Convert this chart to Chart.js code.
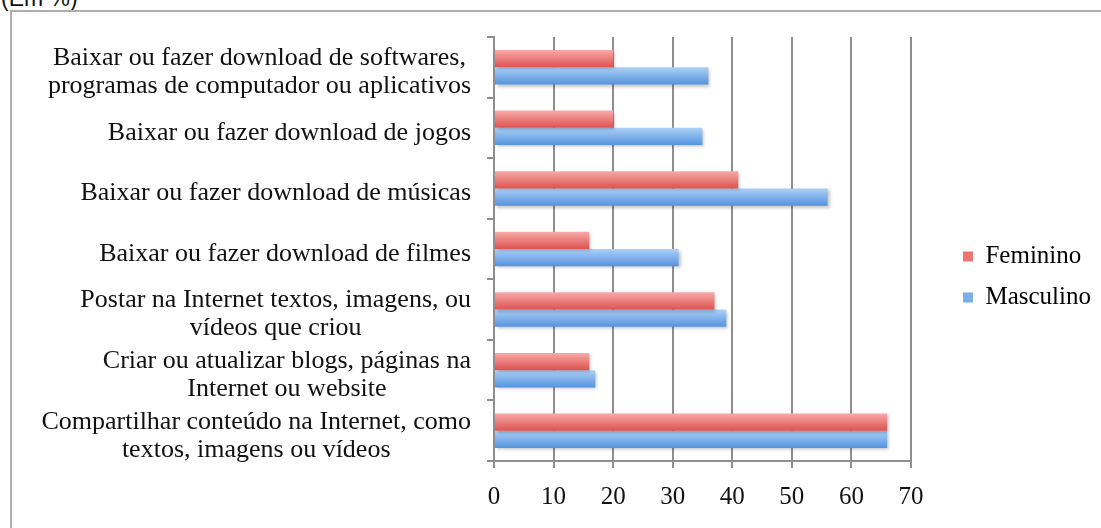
<!DOCTYPE html>
<html lang="pt">
<head>
<meta charset="utf-8">
<script src="https://cdn.jsdelivr.net/npm/chart.js@4/dist/chart.umd.min.js"></script>
<style>
  html, body { margin: 0; padding: 0; background: #fff; overflow: hidden; }
  body { width: 1101px; height: 528px; position: relative; }
  #unidade { position: absolute; left: 1px; top: -15px; font: 23px "Liberation Sans", sans-serif; color: #111; }
  #moldura { position: absolute; left: 10px; top: 10px; width: 1200px; height: 700px; border: 2px solid #adadad; }
  #grafico { position: absolute; left: 0; top: 0; }
</style>
</head>
<body>
<div id="unidade">(Em %)</div>
<div id="moldura"></div>
<canvas id="grafico" width="1101" height="528"></canvas>
<script>
// Categorias (de cima para baixo)
const categorias = [
    ['Baixar ou fazer download de softwares,', 'programas de computador ou aplicativos'],
    ['Baixar ou fazer download de jogos'],
    ['Baixar ou fazer download de músicas'],
    ['Baixar ou fazer download de filmes'],
    ['Postar na Internet textos, imagens, ou', 'vídeos que criou'],
    ['Criar ou atualizar blogs, páginas na', 'Internet ou website'],
    ['Compartilhar conteúdo na Internet, como', 'textos, imagens ou vídeos']
];

// Valores em %
const feminino  = [20, 20, 41, 16, 37, 16, 66];
const masculino = [36, 35, 56, 31, 39, 17, 66];

// Eixo X
const xMin = 0;
const xMax = 70;
const xPasso = 10;

const FONTE = '"Liberation Serif", "DejaVu Serif", serif';
const CAT_PCT = 0.57;

// Degradê vertical em cada barra
function degrade(claro, escuro) {
    return function (ctx) {
        const chart = ctx.chart;
        const y = chart.scales && chart.scales.y;
        if (ctx.type !== 'data' || !y || !chart.chartArea) return escuro;
        const centro = y.getPixelForValue(ctx.dataIndex);
        const passo = Math.abs(y.getPixelForValue(1) - y.getPixelForValue(0));
        const barra = passo * CAT_PCT / 2;
        const topo = ctx.datasetIndex === 0 ? centro - barra : centro;
        const g = chart.ctx.createLinearGradient(0, topo, 0, topo + barra);
        g.addColorStop(0, claro);
        g.addColorStop(1, escuro);
        return g;
    };
}

// Rótulos do eixo Y centralizados linha a linha
const rotulosY = {
    id: 'rotulosY',
    afterDraw(chart) {
        const { ctx, chartArea, scales: { y } } = chart;
        ctx.save();
        ctx.font = '26px ' + FONTE;
        ctx.fillStyle = '#111';
        ctx.textAlign = 'center';
        ctx.textBaseline = 'middle';
        categorias.forEach((linhas, i) => {
            const largura = Math.max(...linhas.map(l => ctx.measureText(l).width));
            const cx = chartArea.left - 23 - largura / 2;
            const cy = y.getPixelForValue(i) + 5;
            linhas.forEach((linha, j) => {
                ctx.fillText(linha, cx, cy + (j - (linhas.length - 1) / 2) * 28);
            });
        });
        ctx.restore();
    }
};

// Sombra leve nas barras
const sombra = {
    id: 'sombra',
    beforeDatasetsDraw(chart) {
        const c = chart.ctx;
        c.save();
        c.shadowColor = 'rgba(0,0,0,0.22)';
        c.shadowBlur = 3;
        c.shadowOffsetX = 2;
        c.shadowOffsetY = 2;
    },
    afterDatasetsDraw(chart) {
        chart.ctx.restore();
    }
};

const ctx = document.getElementById('grafico').getContext('2d');
new Chart(ctx, {
    type: 'bar',
    data: {
        labels: categorias,
        datasets: [
            {
                label: 'Feminino',
                data: feminino,
                backgroundColor: degrade('#f8aaa8', '#dd5350'),
                borderWidth: 0,
                categoryPercentage: CAT_PCT,
                barPercentage: 1
            },
            {
                label: 'Masculino',
                data: masculino,
                backgroundColor: degrade('#acd1f8', '#5593de'),
                borderWidth: 0,
                categoryPercentage: CAT_PCT,
                barPercentage: 1
            }
        ]
    },
    options: {
        indexAxis: 'y',
        responsive: false,
        animation: false,
        layout: { padding: { top: 37, bottom: 11, left: 0, right: 0 } },
        plugins: {
            legend: {
                position: 'right',
                labels: {
                    boxWidth: 10,
                    boxHeight: 10,
                    padding: 16,
                    color: '#111',
                    font: { family: FONTE, size: 25 },
                    generateLabels(chart) {
                        const cores = ['#ec7472', '#79aeea'];
                        return chart.data.datasets.map((ds, i) => ({
                            text: ds.label,
                            fillStyle: cores[i],
                            strokeStyle: cores[i],
                            lineWidth: 0,
                            hidden: false,
                            datasetIndex: i
                        }));
                    }
                }
            },
            tooltip: { enabled: false }
        },
        scales: {
            x: {
                min: xMin,
                max: xMax,
                ticks: {
                    stepSize: xPasso,
                    padding: 14,
                    color: '#111',
                    font: { family: FONTE, size: 25 }
                },
                grid: { color: '#8e8e8e', lineWidth: 2, tickLength: 7 },
                border: { color: '#8e8e8e', width: 2 },
                afterFit(s) { s.height = 56; }
            },
            y: {
                ticks: { display: false },
                grid: { drawOnChartArea: false, color: '#8e8e8e', lineWidth: 2, tickLength: 7, offset: true },
                border: { color: '#8e8e8e', width: 2 },
                afterFit(s) { s.width = 494; }
            },
            y2: {
                type: 'linear',
                position: 'right',
                grid: { display: false },
                border: { display: false },
                ticks: { display: false },
                afterFit(s) { s.width = 36; }
            }
        }
    },
    plugins: [rotulosY, sombra]
});
</script>
</body>
</html>
